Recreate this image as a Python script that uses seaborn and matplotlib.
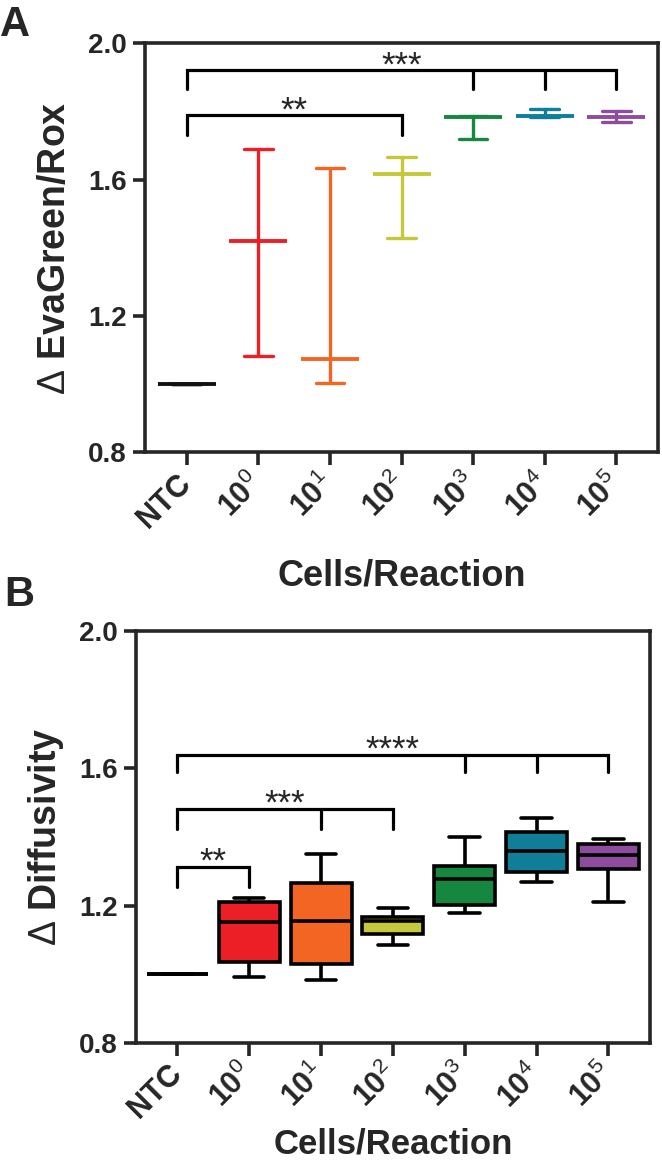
import numpy as np
import pandas as pd
import matplotlib
matplotlib.use("Agg")
import matplotlib.pyplot as plt
import seaborn as sns

# ---- data ----
groups = ["NTC", "10^0", "10^1", "10^2", "10^3", "10^4", "10^5"]
tick_labels = ["NTC"] + [r"$\mathbf{10}^{%d}$" % k for k in range(6)]
colors = ["#111111", "#EC1E26", "#F26522", "#C5C83A", "#15873F", "#0F7F99", "#8E4C9E"]

# panel A: centre line with range (low / centre / high)
a_low = [1.000, 1.082, 1.004, 1.430, 1.719, 1.784, 1.768]
a_mid = [1.000, 1.420, 1.074, 1.616, 1.782, 1.786, 1.782]
a_high = [1.000, 1.691, 1.633, 1.667, 1.785, 1.807, 1.801]

# panel B: five-number summaries (min, q1, median, q3, max)
b_min = [1.000, 0.992, 0.983, 1.085, 1.178, 1.268, 1.211]
b_q1 = [1.000, 1.036, 1.029, 1.117, 1.201, 1.297, 1.307]
b_med = [1.000, 1.151, 1.154, 1.155, 1.277, 1.358, 1.348]
b_q3 = [1.000, 1.212, 1.265, 1.167, 1.316, 1.416, 1.380]
b_max = [1.000, 1.222, 1.350, 1.194, 1.399, 1.455, 1.394]

# significance brackets: (x_start, x_end, inner legs, bar y, leg y, label)
sig_a = [(0, 6, [4, 5], 1.920, 1.865, "***"),
         (0, 3, [], 1.789, 1.731, "**")]
sig_b = [(0, 6, [4, 5], 1.640, 1.589, "****"),
         (0, 3, [2], 1.482, 1.423, "***"),
         (0, 1, [], 1.313, 1.253, "**")]

sns.set_style("ticks")
plt.rcParams["font.family"] = ["Liberation Sans", "DejaVu Sans"]
plt.rcParams["mathtext.fontset"] = "custom"
plt.rcParams["mathtext.rm"] = "Liberation Sans"
plt.rcParams["mathtext.bf"] = "Liberation Sans:bold"
plt.rcParams["axes.linewidth"] = 2.6

dfA = pd.DataFrame({
    "group": np.repeat(groups, 3),
    "value": np.ravel(np.column_stack([a_low, a_mid, a_high])),
})
dfB = pd.DataFrame({
    "group": np.repeat(groups, 5),
    "value": np.ravel(np.column_stack([b_min, b_q1, b_med, b_q3, b_max])),
})

fig = plt.figure(figsize=(6.62, 11.65), dpi=100)
axA = fig.add_axes([0.219, 0.6116, 0.775, 0.3514])
axB = fig.add_axes([0.205, 0.1047, 0.777, 0.3537])

sns.pointplot(data=dfA, x="group", y="value", hue="group", palette=colors,
              estimator="median", errorbar=("pi", 100), capsize=0.4,
              markers="_", linestyles="none", markersize=42,
              markeredgewidth=2.8, err_kws={"linewidth": 2.4},
              legend=False, ax=axA)

sns.boxplot(data=dfB, x="group", y="value", hue="group", palette=colors,
            whis=(0, 100), width=0.85, linecolor="black", linewidth=2.6,
            saturation=1, legend=False, ax=axB)


def brackets(ax, specs):
    for x0, x1, legs, ybar, yleg, label in specs:
        ax.plot([x0, x0, x1, x1], [yleg, ybar, ybar, yleg],
                color="black", lw=2.3, solid_joinstyle="miter")
        for xl in legs:
            ax.plot([xl, xl], [ybar, yleg], color="black", lw=2.3)
        ax.text((x0 + x1) / 2, ybar - 0.015, label, ha="center",
                va="baseline", fontsize=25)


brackets(axA, sig_a)
brackets(axB, sig_b)

for ax, ylab in [(axA, r"$\Delta$ EvaGreen/Rox"), (axB, r"$\Delta$ Diffusivity")]:
    ax.set_xlim(-0.58, 6.58)
    ax.set_ylim(0.8, 2.0)
    ax.set_yticks([0.8, 1.2, 1.6, 2.0])
    ax.set_yticklabels(["%.1f" % v for v in [0.8, 1.2, 1.6, 2.0]],
                       fontsize=20, fontweight="bold")
    ax.set_xticks(range(len(groups)))
    ax.set_xticklabels(tick_labels, fontsize=22, fontweight="bold",
                       rotation=45, ha="right", va="center",
                       rotation_mode="anchor")
    ax.tick_params(axis="both", length=9, width=2.6, direction="out",
                   top=False, right=False)
    ax.tick_params(axis="x", pad=10)
    ax.tick_params(axis="y", pad=4)
    for s in ax.spines.values():
        s.set_visible(True)
        s.set_linewidth(2.6)
    ax.set_xlabel("Cells/Reaction", fontsize=26, fontweight="bold")
    ax.set_ylabel(ylab, fontsize=27, fontweight="bold", va="center")
    ax.yaxis.set_label_coords(-0.175, 0.5)

axA.xaxis.set_label_coords(0.5, -0.258)
axB.xaxis.set_label_coords(0.5, -0.205)
axB.xaxis.label.set_fontsize(25)

fig.text(0.0, 1 - 5 / 1165, "A", fontsize=30, fontweight="bold", va="top")
fig.text(0.006, 1 - 575 / 1165, "B", fontsize=30, fontweight="bold", va="top")

fig.savefig("out.png", dpi=100)
